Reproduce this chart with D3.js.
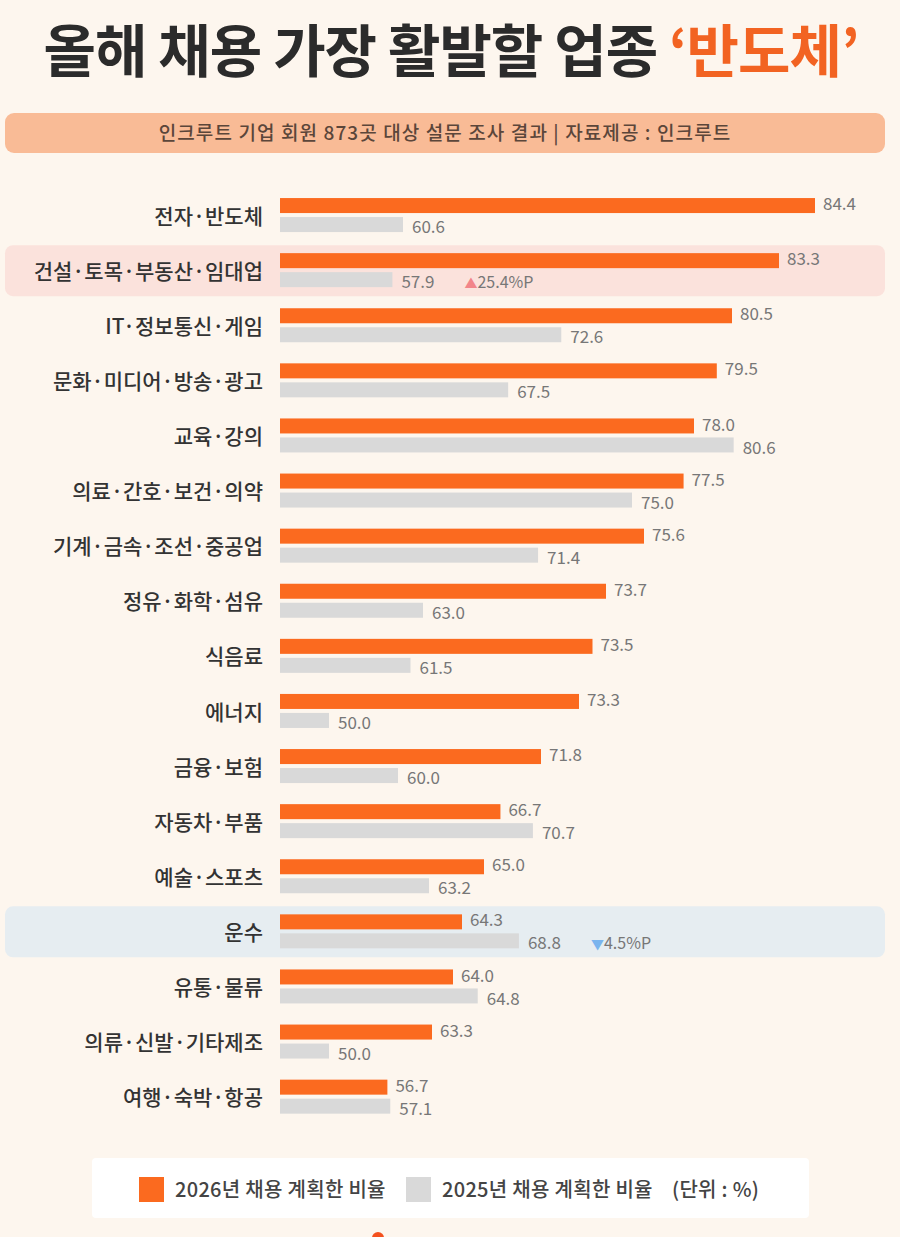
<!DOCTYPE html>
<meta charset="utf-8">
<html>
<head>
    <script src="https://d3js.org/d3.v7.min.js"></script>
    <style>
        body { margin: 0; background: #fdf6ee; }
        svg { display: block; }
        text { font-family: "Noto Sans CJK KR", "Noto Sans", sans-serif; }
    </style>
</head>
<body>
<script>

    // 데이터
    var categories = ["전자·반도체", "건설·토목·부동산·임대업", "IT·정보통신·게임", "문화·미디어·방송·광고",
        "교육·강의", "의료·간호·보건·의약", "기계·금속·조선·중공업", "정유·화학·섬유", "식음료", "에너지",
        "금융·보험", "자동차·부품", "예술·스포츠", "운수", "유통·물류", "의류·신발·기타제조", "여행·숙박·항공"];
    var y2026 = [84.4, 83.3, 80.5, 79.5, 78.0, 77.5, 75.6, 73.7, 73.5, 73.3, 71.8, 66.7, 65.0, 64.3, 64.0, 63.3, 56.7];
    var y2025 = [60.6, 57.9, 72.6, 67.5, 80.6, 75.0, 71.4, 63.0, 61.5, 50.0, 60.0, 70.7, 63.2, 68.8, 64.8, 50.0, 57.1];

    // 강조 행 (증감 %P)
    var highlights = [
        { name: "건설·토목·부동산·임대업", change: "25.4%P", dir: "up" },
        { name: "운수", change: "4.5%P", dir: "down" }
    ];

    var seriesNames = ["2026년 채용 계획한 비율", "2025년 채용 계획한 비율"];
    var unitText = "(단위 : %)";
    var title = "올해 채용 가장 활발할 업종 ";
    var titleAccent = "‘반도체’";
    var subtitle = "인크루트 기업 회원 873곳 대상 설문 조사 결과 | 자료제공 : 인크루트";

    var largura = 900;
    var altura = 1237;

    var orange = "#fb6a1f";
    var grey = "#d9d9d9";
    var labelGrey = "#777";

    var svg = d3.select("body").append("svg")
        .attr("width", largura)
        .attr("height", altura);

    svg.append("rect").attr("width", largura).attr("height", altura).attr("fill", "#fdf6ee");

    // 제목
    var t = svg.append("text")
        .attr("x", 451).attr("y", 72)
        .attr("text-anchor", "middle")
        .style("font-size", "57px").style("font-weight", 700)
        .style("letter-spacing", "-1px");
    t.append("tspan").attr("fill", "#2b2b2b").text(title);
    t.append("tspan").attr("fill", "#f26322").text(titleAccent);

    // 부제 박스
    svg.append("rect")
        .attr("x", 5).attr("y", 113).attr("width", 880).attr("height", 40)
        .attr("rx", 9).attr("fill", "#f9bb96");
    svg.append("text")
        .attr("x", 445).attr("y", 140)
        .attr("text-anchor", "middle")
        .style("font-size", "19px").style("font-weight", 500)
        .style("letter-spacing", "1.1px")
        .attr("fill", "#5b463a")
        .text(subtitle);

    // 스케일 (원본 막대 길이가 값에 비례하지 않아 구간별 선형 스케일 사용)
    var x = d3.scaleLinear()
        .domain([50, 57, 60, 63, 64.3, 65, 68, 71.8, 73.3, 73.7, 75.6, 78, 80.5, 83.3, 84.4])
        .range([329, 390, 398, 423, 462, 484, 513, 541, 579, 606, 644, 694, 732, 779, 815]);
    var x0 = 280;

    var y = d3.scaleBand()
        .domain(categories)
        .range([187.5, 187.5 + 17 * 55.1]);

    var rows = categories.map(function (c, i) {
        return { name: c, a: y2026[i], b: y2025[i] };
    });

    // 강조 배경
    var hl = svg.append("g");
    highlights.forEach(function (h) {
        hl.append("rect")
            .attr("x", 5).attr("width", 880)
            .attr("y", y(h.name) + y.bandwidth() / 2 - 25)
            .attr("height", 51)
            .attr("rx", 8)
            .attr("fill", h.dir === "up" ? "#fbe2dc" : "#e6edf1");
    });

    var g = svg.append("g");

    var row = g.selectAll("g.row")
        .data(rows)
        .enter().append("g")
        .attr("class", "row")
        .attr("transform", function (d) { return "translate(0," + (y(d.name) + y.bandwidth() / 2) + ")"; });

    row.append("text")
        .attr("x", 263).attr("y", 1)
        .attr("dy", "0.36em")
        .attr("text-anchor", "end")
        .style("font-size", "21px").style("font-weight", 500)
        .attr("fill", "#333")
        .text(function (d) { return d.name; });

    row.append("rect")
        .attr("x", x0).attr("y", -17)
        .attr("width", function (d) { return x(d.a) - x0; })
        .attr("height", 15)
        .attr("fill", orange);

    row.append("rect")
        .attr("x", x0).attr("y", 2)
        .attr("width", function (d) { return x(d.b) - x0; })
        .attr("height", 15)
        .attr("fill", grey);

    row.append("text")
        .attr("x", function (d) { return x(d.a) + 8; })
        .attr("y", -11).attr("dy", "0.36em")
        .style("font-size", "17px")
        .attr("fill", labelGrey)
        .text(function (d) { return d.a.toFixed(1); });

    row.append("text")
        .attr("class", "blabel")
        .attr("x", function (d) { return x(d.b) + 9; })
        .attr("y", 12).attr("dy", "0.36em")
        .style("font-size", "17px")
        .attr("fill", labelGrey)
        .text(function (d) { return d.b.toFixed(1); });

    // 증감 표시
    highlights.forEach(function (h) {
        var r = row.filter(function (d) { return d.name === h.name; });
        var lab = r.select("text.blabel");
        var ex = +lab.attr("x") + lab.node().getComputedTextLength() + 30;
        var tx = r.append("text")
            .attr("x", ex).attr("y", 12).attr("dy", "0.36em")
            .style("font-size", "16px");
        tx.append("tspan")
            .attr("fill", h.dir === "up" ? "#f2858a" : "#7ab4ee")
            .style("font-size", "13px")
            .text(h.dir === "up" ? "▲" : "▼");
        tx.append("tspan").attr("fill", labelGrey).text(h.change);
    });

    // 범례
    var leg = svg.append("g");
    leg.append("rect")
        .attr("x", 92).attr("y", 1158).attr("width", 717).attr("height", 60)
        .attr("rx", 4).attr("fill", "#fff");

    var legItems = [
        { name: seriesNames[0], color: orange, x: 139 },
        { name: seriesNames[1], color: grey, x: 406 }
    ];
    legItems.forEach(function (d) {
        leg.append("rect")
            .attr("x", d.x).attr("y", 1177).attr("width", 25).attr("height", 25)
            .attr("fill", d.color);
        leg.append("text")
            .attr("x", d.x + 36).attr("y", 1190).attr("dy", "0.36em")
            .style("font-size", "20px").style("font-weight", 500)
            .style("letter-spacing", "0.3px")
            .attr("fill", "#444")
            .text(d.name);
    });
    leg.append("text")
        .attr("x", 672).attr("y", 1190).attr("dy", "0.36em")
        .style("font-size", "20px").style("font-weight", 500)
        .style("letter-spacing", "0.3px")
        .attr("fill", "#444")
        .text(unitText);

    // 하단 로고 (잘림)
    svg.append("circle").attr("cx", 378).attr("cy", 1238).attr("r", 6).attr("fill", "#f4511e");

</script>
</body>
</html>
